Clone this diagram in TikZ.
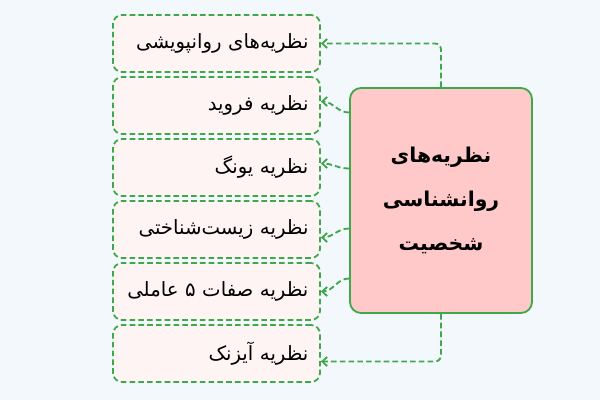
\documentclass[tikz,border=0pt]{standalone}
\usepackage{fontspec}
\newfontfamily\arabicfont[Script=Arabic]{DejaVu Sans}
\TeXXeTstate=1
\usetikzlibrary{arrows.meta}
\definecolor{linegreen}{RGB}{62,168,74}
\definecolor{boxpink}{RGB}{255,244,244}
\definecolor{mainpink}{RGB}{255,201,201}
\definecolor{bgblue}{RGB}{243,248,252}

\begin{document}
\begin{tikzpicture}[x=0.05cm, y=-0.05cm,
		theory/.style={draw=linegreen, line width=2.6pt, dash pattern=on 8pt off 4.5pt, fill=boxpink,
			rounded corners=0.45cm, minimum height=2.85cm, text width=9.2cm, inner xsep=0.575cm,
			align=right, font=\arabicfont\fontsize{28}{34}\selectfont},
		link/.style={draw=linegreen, line width=2.6pt, dash pattern=on 8pt off 4.5pt,
			-{Straight Barb[length=7pt, width=13pt]}, rounded corners=0.3cm}]
		\fill[bgblue] (0,0) rectangle (600,400);
		\useasboundingbox (0,0) rectangle (600,400);

		\node[draw=linegreen, line width=2.6pt, fill=mainpink, rounded corners=0.55cm,
			minimum width=9.1cm, minimum height=11.25cm, align=center,
			font=\arabicfont\bfseries\fontsize{29}{62}\selectfont] at (441, 200.5) (main)
			{\beginR نظریه‌های\endR\\ \beginR روانشناسی\endR\\ \beginR شخصیت\endR};

		\node[theory] at (216.5, 43.5) (t1) {\beginR نظریه‌های روانپویشی\endR};
		\node[theory] at (216.5, 105.5) (t2) {\beginR نظریه فروید\endR};
		\node[theory] at (216.5, 167.5) (t3) {\beginR نظریه یونگ\endR};
		\node[theory] at (216.5, 229.5) (t4) {\beginR نظریه زیست‌شناختی\endR};
		\node[theory] at (216.5, 291.5) (t5) {\beginR نظریه صفات ۵ عاملی\endR};
		\node[theory] at (216.5, 353.5) (t6) {\beginR نظریه آیزنک\endR};

		\draw[link] (main.north) |- (t1.east);
		\draw[link] ([yshift=4.4cm]main.west) to[out=180, in=0] ([yshift=0.2cm]t2.east);
		\draw[link] ([yshift=1.6cm]main.west) to[out=180, in=0] ([yshift=0.2cm]t3.east);
		\draw[link] ([yshift=-1.4cm]main.west) to[out=180, in=0] ([yshift=-0.4cm]t4.east);
		\draw[link] ([yshift=-3.9cm]main.west) to[out=180, in=0] (t5.east);
		\draw[link] (main.south) |- ([yshift=-0.4cm]t6.east);
	\end{tikzpicture}
\end{document}
